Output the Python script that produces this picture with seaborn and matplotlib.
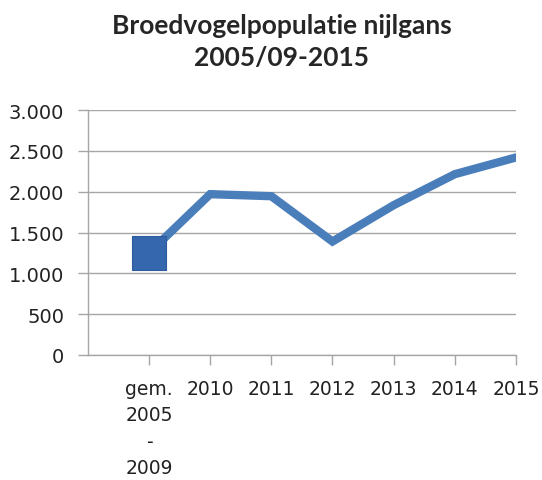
import numpy as np
import pandas as pd
import matplotlib
matplotlib.use("Agg")
import matplotlib.pyplot as plt
import seaborn as sns

# === Data ===
categories = ["gem.\n2005\n-\n2009", "2010", "2011", "2012", "2013", "2014", "2015"]
values = [1250, 1970, 1945, 1390, 1835, 2215, 2420]
y_ticks = [0, 500, 1000, 1500, 2000, 2500, 3000]
y_tick_labels = ["0", "500", "1.000", "1.500", "2.000", "2.500", "3.000"]

df = pd.DataFrame({"pos": np.arange(len(categories)), "value": values})

sns.set_style("white")
plt.rcParams["font.family"] = ["DejaVu Sans"]

fig = plt.figure(figsize=(5.42, 4.81), dpi=100)
ax = fig.add_axes([0.162, 0.260, 0.790, 0.509])

line_color = "#4A7EBB"
sns.lineplot(data=df, x="pos", y="value", ax=ax, color=line_color, linewidth=6,
             sort=False, solid_joinstyle="miter", zorder=3)
# square marker only on the first point
sns.scatterplot(data=df.iloc[:1], x="pos", y="value", ax=ax, marker="s", s=620,
                color="#3567AE", edgecolor="#2C5A9A", linewidth=0.8, zorder=4, legend=False)

ax.set_xlim(-1, len(categories) - 1)
ax.set_ylim(0, 3000)
ax.set_yticks(y_ticks)
ax.set_yticklabels(y_tick_labels, fontsize=14, color="#222222")
ax.set_xticks(df["pos"])
ax.set_xticklabels(categories, fontsize=13.5, linespacing=1.5, va="top", color="#222222")
ax.set_xlabel("")
ax.set_ylabel("")

ax.grid(axis="y", color="#A6A6A6", linewidth=1)
ax.set_axisbelow(True)
for side in ["top", "right"]:
    ax.spines[side].set_visible(False)
for side in ["left", "bottom"]:
    ax.spines[side].set_color("#A6A6A6")
    ax.spines[side].set_linewidth(1)
ax.tick_params(axis="both", which="both", length=7, width=1, color="#A6A6A6",
               direction="out", left=True, bottom=True)
ax.tick_params(axis="y", pad=10)
ax.tick_params(axis="x", pad=10)

fig.suptitle("Broedvogelpopulatie nijlgans\n2005/09-2015", x=0.52, y=0.97,
             fontsize=19, fontweight="bold", family=["Lato", "DejaVu Sans"],
             linespacing=1.4)

plt.savefig("out.png", dpi=100)
